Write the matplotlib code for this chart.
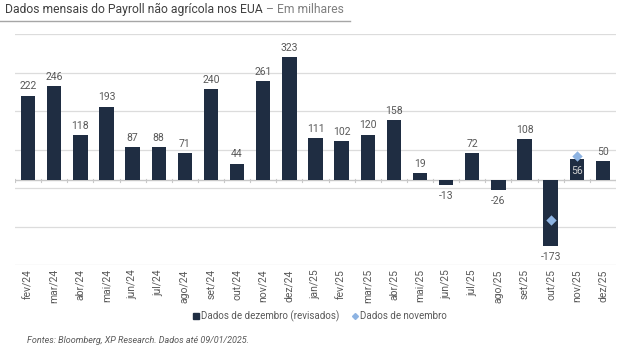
import matplotlib
matplotlib.use("Agg")
import matplotlib.pyplot as plt
from matplotlib.lines import Line2D
import numpy as np

plt.rcParams['font.family'] = ['Roboto', 'DejaVu Sans']

# data
months = ["fev/24", "mar/24", "abr/24", "mai/24", "jun/24", "jul/24", "ago/24",
          "set/24", "out/24", "nov/24", "dez/24", "jan/25", "fev/25", "mar/25",
          "abr/25", "mai/25", "jun/25", "jul/25", "ago/25", "set/25", "out/25",
          "nov/25", "dez/25"]
dez_revised = [222, 246, 118, 193, 87, 88, 71, 240, 44, 261, 323, 111, 102, 120,
               158, 19, -13, 72, -26, 108, -173, 56, 50]
nov_months = ["out/25", "nov/25"]
nov_values = [-105, 64]

bar_color = "#1f2d42"
dot_color = "#8db3e2"
txt_color = "#595959"

fig = plt.figure(figsize=(6.39, 3.52), dpi=100)
ax = fig.add_axes([0.0235, 0.247, 0.9405, 0.656])

x = np.arange(len(months))
ax.bar(x, dez_revised, width=0.55, color=bar_color, zorder=3)

nov_x = [months.index(m) for m in nov_months]
ax.scatter(nov_x, nov_values, marker="D", s=28, color=dot_color, zorder=4,
           linewidths=0)

# value labels
for xi, v in zip(x, dez_revised):
    if months[xi] == "nov/25":
        ax.annotate(str(v), (xi, v), xytext=(0, -5), textcoords="offset points",
                    ha="center", va="top", fontsize=7.5, color="#d0d0d0", zorder=5)
    elif v >= 0:
        ax.annotate(str(v), (xi, v), xytext=(0, 3), textcoords="offset points",
                    ha="center", va="bottom", fontsize=7.5, color=txt_color)
    else:
        ax.annotate(str(v), (xi, v), xytext=(0, -4), textcoords="offset points",
                    ha="center", va="top", fontsize=7.5, color=txt_color)

ymin, ymax = -222, 383
ax.set_ylim(ymin, ymax)
ax.set_xlim(-0.5, len(months) - 0.5)
for g in np.linspace(ymin, ymax, 7):
    ax.axhline(g, color="#dcdcdc", lw=0.9, zorder=1)
ax.axhline(0, color="#c8c8c8", lw=1.0, zorder=2)
# small ticks on zero line between categories
for b in np.arange(-0.5, len(months), 1.0):
    ax.plot([b, b], [-4, 4], color="#c8c8c8", lw=0.8, zorder=2)

ax.set_yticks([])
ax.set_xticks(x)
ax.set_xticklabels(months, rotation=90, fontsize=7.5, color=txt_color)
ax.tick_params(axis="x", length=0, pad=3)
for s in ax.spines.values():
    s.set_visible(False)

# title
t = fig.text(0.008, 0.972, "Dados mensais do Payroll não agrícola nos EUA", fontsize=8.7,
             color="#404040", va="center", ha="left")
fig.add_artist(Line2D([0, 0.548], [0.94, 0.94], color="#a6a6a6", lw=1.0,
                      transform=fig.transFigure))
plt.annotate(" – Em milhares", xy=(1, 0.5), xycoords=t, va="center", ha="left",
             fontsize=8.7, color="#7f7f7f", annotation_clip=False)

# legend
handles = [Line2D([], [], marker="s", linestyle="", color=bar_color, markersize=4.5),
           Line2D([], [], marker="D", linestyle="", color=dot_color, markersize=3)]
fig.legend(handles, ["Dados de dezembro (revisados)", "Dados de novembro"],
           loc="center", bbox_to_anchor=(0.5, 0.103), ncol=2, frameon=False,
           fontsize=7, labelcolor=txt_color, handletextpad=0.1, columnspacing=1.2,
           handlelength=0.8)

fig.text(0.042, 0.033, "Fontes: Bloomberg, XP Research. Dados até 09/01/2025.",
         fontsize=6.5, style="italic", color=txt_color, va="center")

fig.savefig("out.png", dpi=100)
